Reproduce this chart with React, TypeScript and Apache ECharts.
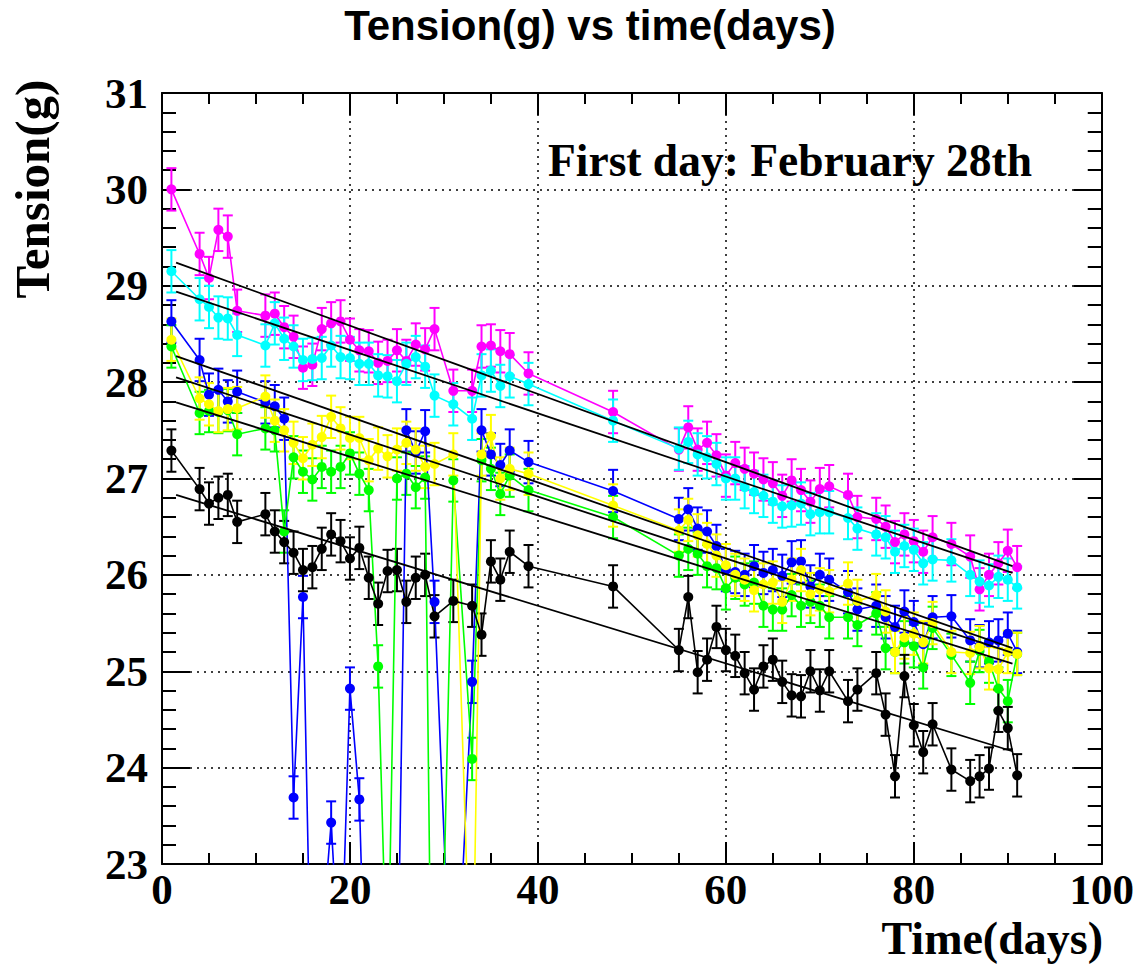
import React, { useEffect, useRef } from "react";
import * as echarts from "echarts";

const DAYS = [1, 4, 5, 6, 7, 8, 11, 12, 13, 14, 15, 16, 17, 18, 19, 20, 21, 22, 23, 24, 25, 26, 27, 28, 29, 31, 33, 34, 35, 36, 37, 39, 48, 55, 56, 57, 58, 59, 60, 61, 62, 63, 64, 65, 66, 67, 68, 69, 70, 71, 73, 74, 76, 77, 78, 79, 80, 81, 82, 84, 86, 87, 88, 89, 90, 91];

const MAGENTA = [30.0, 29.33, 29.08, 29.58, 29.51, 28.74, 28.69, 28.71, 28.57, 28.47, 28.15, 28.18, 28.55, 28.61, 28.63, 28.44, 28.33, 28.32, 28.2, 28.22, 28.33, 28.22, 28.39, 28.34, 28.55, 27.91, 27.91, 28.37, 28.38, 28.32, 28.29, 28.09, 27.69, 27.3, 27.53, 27.3, 27.37, 27.24, 27.03, 27.16, 27.1, 27.05, 26.99, 26.95, 26.82, 26.98, 26.88, 26.76, 26.89, 26.92, 26.83, 26.6, 26.58, 26.5, 26.34, 26.42, 26.35, 26.24, 26.39, 26.32, 26.19, 25.85, 26.0, 26.12, 26.25, 26.08];
const CYAN = [29.15, 28.86, 28.78, 28.67, 28.66, 28.49, 28.38, 28.61, 28.45, 28.37, 28.23, 28.24, 28.25, 28.38, 28.26, 28.25, 28.19, 28.19, 28.07, 28.06, 28.01, 28.19, 28.26, 28.16, 27.86, 27.77, 27.62, 28.07, 28.12, 27.96, 28.06, 27.98, 27.6, 27.31, 27.38, 27.25, 27.22, 27.15, 27.0, 27.0, 26.91, 26.86, 26.82, 26.76, 26.71, 26.72, 26.74, 26.63, 26.65, 26.65, 26.59, 26.48, 26.42, 26.39, 26.24, 26.3, 26.26, 26.12, 26.16, 26.15, 26.0, 25.93, 25.89, 25.98, 25.95, 25.87];
const BLUE = [28.63, 28.23, 27.87, 27.92, 27.8, 27.9, 27.79, 27.75, 27.62, 23.69, 25.77, 20.9, 22.2, 23.43, 21.7, 24.82, 23.67, 20.3, 20.5, 20.5, 21.2, 27.5, 27.27, 27.49, 25.72, 20.9, 24.89, 27.5, 27.25, 27.14, 27.29, 27.17, 26.87, 26.58, 26.68, 26.48, 26.45, 26.3, 26.05, 26.03, 26.0, 26.09, 26.02, 26.05, 25.99, 26.13, 26.14, 25.88, 26.0, 25.95, 25.82, 25.64, 25.68, 25.56, 25.46, 25.62, 25.51, 25.28, 25.56, 25.57, 25.32, 25.26, 25.3, 25.32, 25.39, 25.2];
const GREEN = [28.37, 27.68, 27.7, 27.69, 27.71, 27.46, 27.52, 27.5, 26.45, 27.22, 27.07, 26.99, 27.12, 27.07, 27.12, 27.26, 27.05, 26.88, 25.05, 21.5, 27.0, 27.05, 26.91, 27.01, 18.5, 26.98, 24.09, 27.19, 27.1, 26.84, 27.03, 26.88, 26.6, 26.2, 26.27, 26.22, 26.09, 26.07, 25.86, 25.97, 25.9, 25.92, 25.68, 25.64, 25.64, 25.79, 25.68, 25.72, 25.68, 25.56, 25.56, 25.48, 25.6, 25.24, 25.2, 25.3, 25.26, 25.04, 25.45, 25.17, 24.88, 25.21, 25.1, 24.82, 24.69, 25.18];
const YELLOW = [28.44, 27.83, 27.77, 27.7, 27.72, 27.73, 27.85, 27.6, 27.5, 27.37, 27.21, 27.35, 27.43, 27.64, 27.52, 27.42, 27.42, 27.19, 27.31, 27.23, 27.3, 27.37, 27.3, 27.12, 27.15, 27.25, 21.2, 27.25, 27.44, 27.0, 27.1, 27.05, 26.72, 26.46, 26.57, 26.41, 26.32, 26.2, 26.1, 26.0, 25.95, 25.84, 25.9, 25.92, 25.72, 25.95, 26.05, 25.8, 25.85, 25.83, 25.91, 25.73, 25.79, 25.62, 25.2, 25.35, 25.39, 25.3, 25.5, 25.2, 25.19, 25.25, 25.03, 25.02, 25.2, 25.18];
const BLACK = [27.29, 26.89, 26.74, 26.8, 26.83, 26.55, 26.63, 26.45, 26.34, 26.23, 26.05, 26.08, 26.27, 26.42, 26.35, 26.17, 26.28, 25.97, 25.7, 26.04, 26.05, 25.72, 25.97, 26.0, 25.57, 25.73, 25.68, 25.38, 26.14, 25.95, 26.24, 26.09, 25.88, 25.22, 25.77, 24.99, 25.12, 25.46, 25.22, 25.16, 24.98, 24.81, 25.05, 25.12, 24.89, 24.75, 24.74, 25.0, 24.8, 25.0, 24.69, 24.81, 24.98, 24.55, 23.91, 24.95, 24.44, 24.16, 24.45, 23.98, 23.86, 23.91, 23.99, 24.59, 24.41, 23.92];

const ERR = 0.22;

const FIT_X = [1.5, 90.5];
const FIT_MAGENTA = [29.24, 26.09];
const FIT_CYAN = [28.94, 26.02];
const FIT_BLUE = [28.27, 25.24];
const FIT_YELLOW = [28.05, 25.19];
const FIT_GREEN = [27.79, 25.08];
const FIT_BLACK = [26.83, 24.17];

const X_TICKS = [0, 20, 40, 60, 80, 100];
const Y_TICKS = [23, 24, 25, 26, 27, 28, 29, 30, 31];

const TITLE = "Tension(g) vs time(days)";
const X_TITLE = "Time(days)";
const Y_TITLE = "Tension(g)";
const NOTE = "First day: February 28th";

const SERIES = [
  { name: "magenta", color: "#ff00ff", values: MAGENTA, fit: FIT_MAGENTA },
  { name: "cyan", color: "#00ffff", values: CYAN, fit: FIT_CYAN },
  { name: "blue", color: "#0000ff", values: BLUE, fit: FIT_BLUE },
  { name: "green", color: "#00ff00", values: GREEN, fit: FIT_GREEN },
  { name: "yellow", color: "#ffff00", values: YELLOW, fit: FIT_YELLOW },
  { name: "black", color: "#000000", values: BLACK, fit: FIT_BLACK },
];

const SERIF = "'Liberation Serif', 'Times New Roman', serif";
const SANS = "'Liberation Sans', Arial, sans-serif";

export default function App() {
  const ref = useRef<HTMLDivElement>(null);

  useEffect(() => {
    const chart = echarts.init(ref.current!, null, { renderer: "svg" });
    const series: any[] = [];

    SERIES.forEach((s) => {
      series.push({
        type: "custom",
        name: s.name + "-err",
        xAxisIndex: 0,
        yAxisIndex: 0,
        clip: true,
        z: 2,
        encode: { x: 0, y: 1 },
        data: DAYS.map((d, i) => [d, s.values[i], ERR]),
        renderItem: (_p: any, api: any) => {
          const x = api.value(0);
          const y = api.value(1);
          const e = api.value(2);
          const top = api.coord([x, y + e]);
          const bot = api.coord([x, y - e]);
          const cap = 5;
          const st = { stroke: s.color, lineWidth: 2 };
          return {
            type: "group",
            children: [
              { type: "line", shape: { x1: top[0], y1: top[1], x2: bot[0], y2: bot[1] }, style: st },
              { type: "line", shape: { x1: top[0] - cap, y1: top[1], x2: top[0] + cap, y2: top[1] }, style: st },
              { type: "line", shape: { x1: bot[0] - cap, y1: bot[1], x2: bot[0] + cap, y2: bot[1] }, style: st },
            ],
          };
        },
      });
      series.push({
        type: "line",
        name: s.name,
        xAxisIndex: 0,
        yAxisIndex: 0,
        clip: true,
        z: 3,
        data: DAYS.map((d, i) => [d, s.values[i]]),
        symbol: "circle",
        symbolSize: 10,
        showAllSymbol: true,
        itemStyle: { color: s.color },
        lineStyle: { color: s.color, width: 1.6 },
      });
    });

    SERIES.forEach((s) => {
      series.push({
        type: "line",
        name: s.name + "-fit",
        xAxisIndex: 0,
        yAxisIndex: 0,
        z: 4,
        data: FIT_X.map((d, i) => [d, s.fit[i]]),
        symbol: "none",
        lineStyle: { color: "#000", width: 1.8 },
      });
    });

    const grid = { left: 162, top: 93, width: 940, height: 771 };
    const lblStyle = {
      fontFamily: SERIF,
      fontWeight: "bold" as const,
      fontSize: 43,
      color: "#000",
    };

    chart.setOption({
      animation: false,
      backgroundColor: "#fff",
      grid,
      xAxis: [
        {
          type: "value",
          position: "bottom",
          min: X_TICKS[0],
          max: X_TICKS[X_TICKS.length - 1],
          interval: X_TICKS[1] - X_TICKS[0],
          axisLine: { show: true, onZero: false, lineStyle: { color: "#000", width: 2 } },
          axisTick: { show: true, inside: true, length: 22, lineStyle: { color: "#000", width: 2 } },
          minorTick: { show: true, splitNumber: 4, length: 11, lineStyle: { color: "#000", width: 2 } },
          splitLine: { show: true, lineStyle: { color: "#000", width: 1.5, type: [2, 5] } },
          axisLabel: { ...lblStyle, margin: 4, showMinLabel: true, showMaxLabel: true },
        },
        {
          type: "value",
          position: "top",
          min: X_TICKS[0],
          max: X_TICKS[X_TICKS.length - 1],
          interval: X_TICKS[1] - X_TICKS[0],
          axisLine: { show: true, onZero: false, lineStyle: { color: "#000", width: 2 } },
          axisTick: { show: true, inside: true, length: 22, lineStyle: { color: "#000", width: 2 } },
          minorTick: { show: true, splitNumber: 4, length: 11, lineStyle: { color: "#000", width: 2 } },
          splitLine: { show: false },
          axisLabel: { show: false },
        },
      ],
      yAxis: [
        {
          type: "value",
          position: "left",
          min: Y_TICKS[0],
          max: Y_TICKS[Y_TICKS.length - 1],
          interval: 1,
          axisLine: { show: true, onZero: false, lineStyle: { color: "#000", width: 2 } },
          axisTick: { show: true, inside: true, length: 28, lineStyle: { color: "#000", width: 2 } },
          minorTick: { show: true, splitNumber: 5, length: 14, lineStyle: { color: "#000", width: 2 } },
          splitLine: { show: true, lineStyle: { color: "#000", width: 1.5, type: [2, 5] } },
          axisLabel: { ...lblStyle, margin: 14, showMinLabel: true, showMaxLabel: true },
        },
        {
          type: "value",
          position: "right",
          min: Y_TICKS[0],
          max: Y_TICKS[Y_TICKS.length - 1],
          interval: 1,
          axisLine: { show: true, onZero: false, lineStyle: { color: "#000", width: 2 } },
          axisTick: { show: true, inside: true, length: 28, lineStyle: { color: "#000", width: 2 } },
          minorTick: { show: true, splitNumber: 5, length: 14, lineStyle: { color: "#000", width: 2 } },
          splitLine: { show: false },
          axisLabel: { show: false },
        },
      ],
      graphic: [
        {
          type: "text",
          x: 590,
          y: 25,
          style: {
            text: TITLE,
            font: `bold 42px ${SANS}`,
            fill: "#000",
            textAlign: "center",
            textVerticalAlign: "middle",
          },
        },
        {
          type: "text",
          x: 1103,
          y: 938,
          style: {
            text: X_TITLE,
            font: `bold 46px ${SERIF}`,
            fill: "#000",
            textAlign: "right",
            textVerticalAlign: "middle",
          },
        },
        {
          type: "text",
          x: 32,
          y: 189,
          rotation: Math.PI / 2,
          style: {
            text: Y_TITLE,
            font: `bold 49px ${SERIF}`,
            fill: "#000",
            textAlign: "center",
            textVerticalAlign: "middle",
          },
        },
        {
          type: "text",
          x: 548,
          y: 160,
          z: 10,
          style: {
            text: NOTE,
            font: `bold 45.5px ${SERIF}`,
            fill: "#000",
            textAlign: "left",
            textVerticalAlign: "middle",
          },
        },
      ],
      series,
    });

    return () => {
      chart.dispose();
    };
  }, []);

  return (
    <div
      ref={ref}
      style={{ position: "fixed", left: 0, top: 0, width: 1137, height: 967, background: "#fff" }}
    />
  );
}
